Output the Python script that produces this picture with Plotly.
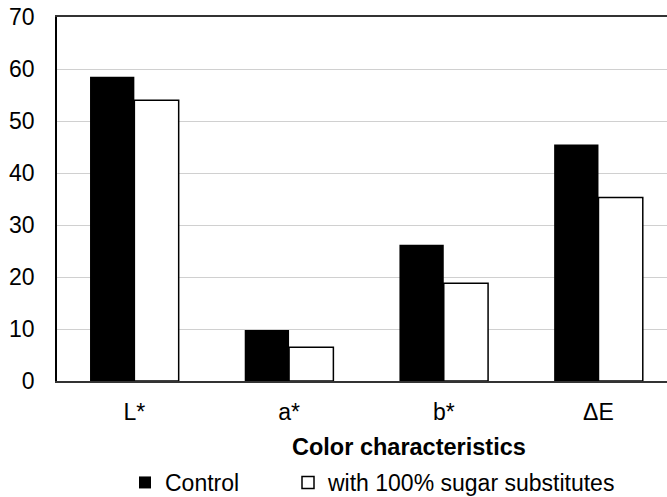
import plotly.graph_objects as go

categories = ["L*", "a*", "b*", "\u0394E"]
control = [58.5, 9.8, 26.2, 45.5]
sugar_sub = [54.0, 6.5, 18.8, 35.3]
series_names = ["Control", "with 100% sugar substitutes"]
y_ticks = [0, 10, 20, 30, 40, 50, 60, 70]

FONT = "Liberation Sans, Arial, sans-serif"
W, H = 667, 497
ML, MR, MT, MB = 57, 0, 17, 116
PW = W - ML - MR
PH = H - MT - MB


def px_x(px):
    return (px - ML) / PW


def px_y(py):
    return (H - MB - py) / PH


fig = go.Figure()
fig.add_trace(go.Bar(
    x=categories, y=control, name=series_names[0], legend="legend",
    marker=dict(color="#000000", line=dict(color="#000000", width=0)),
))
fig.add_trace(go.Bar(
    x=categories, y=sugar_sub, name=series_names[1], legend="legend2",
    marker=dict(color="#ffffff", line=dict(color="#000000", width=1.5)),
))

leg_common = dict(
    orientation="h", xanchor="left", yanchor="bottom",
    font=dict(family=FONT, size=23, color="#000000"),
    bgcolor="rgba(0,0,0,0)", borderwidth=0,
)
fig.update_layout(
    width=W, height=H,
    margin=dict(l=ML, r=MR, t=MT, b=MB, pad=0, autoexpand=False),
    paper_bgcolor="white", plot_bgcolor="white",
    font=dict(family=FONT, size=23, color="#000000"),
    barmode="group", bargap=0.427, bargroupgap=0,
    showlegend=True,
    legend=dict(x=px_x(125), y=px_y(504), **leg_common),
    legend2=dict(x=px_x(288), y=px_y(504), **leg_common),
)
fig.update_xaxes(
    type="category", range=[-0.5, 3.443],
    showline=True, linecolor="#333333", linewidth=1.5, mirror=True,
    showgrid=False, ticks="", ticklabelstandoff=10,
    tickfont=dict(family=FONT, size=23, color="#000000"),
    fixedrange=True,
)
fig.update_yaxes(
    range=[0, 70], tickvals=y_ticks, ticktext=[str(v) for v in y_ticks],
    showline=True, linecolor="#000000", linewidth=1.5, mirror=False,
    showgrid=True, gridcolor="#d0d0d0", gridwidth=1.2,
    zeroline=False, ticks="", ticklabelstandoff=16,
    tickfont=dict(family=FONT, size=23, color="#000000"),
    fixedrange=True,
)
fig.add_annotation(
    text="<b>Color characteristics</b>", xref="paper", yref="paper",
    x=px_x(409), y=px_y(447),
    xanchor="center", yanchor="middle", showarrow=False,
    font=dict(family=FONT, size=23.5, color="#000000"),
)

fig.write_html("out.html")
